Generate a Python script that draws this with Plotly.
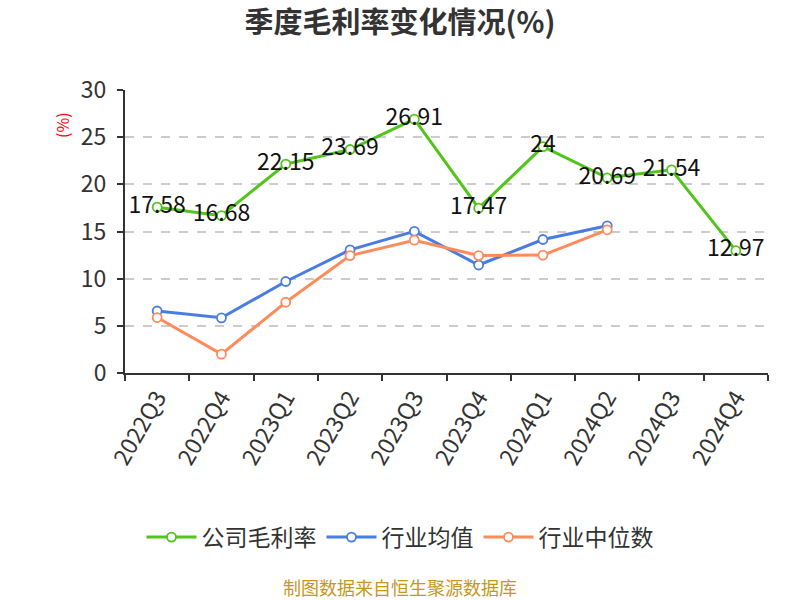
import plotly.graph_objects as go

categories = ["2022Q3", "2022Q4", "2023Q1", "2023Q2", "2023Q3", "2023Q4", "2024Q1", "2024Q2", "2024Q3", "2024Q4"]
company = [17.58, 16.68, 22.15, 23.69, 26.91, 17.47, 24, 20.69, 21.54, 12.97]
industry_avg = [6.57, 5.85, 9.7, 13.05, 15.02, 11.45, 14.15, 15.6]
industry_median = [5.88, 2.0, 7.5, 12.45, 14.08, 12.45, 12.5, 15.18]

FONT = "Noto Sans CJK SC, Noto Sans, sans-serif"
GREEN = "#52c41a"
BLUE = "#4a7de2"
ORANGE = "#ff8a5b"

fig = go.Figure()

def add(name, ys, color, labels=False):
    fig.add_trace(go.Scatter(
        x=categories[:len(ys)], y=ys, name=name,
        mode="lines+markers+text" if labels else "lines+markers",
        line=dict(color=color, width=3),
        marker=dict(symbol="circle", size=9, color="white", line=dict(color=color, width=1.8)),
        text=[f"{v:g}" for v in ys] if labels else None,
        textposition="middle center",
        textfont=dict(size=23, color="#111", family=FONT),
        cliponaxis=False,
    ))

add("公司毛利率", company, GREEN, labels=True)
add("行业均值", industry_avg, BLUE)
add("行业中位数", industry_median, ORANGE)

CX = (400 - 125) / 643

fig.update_layout(
    width=800, height=600,
    margin=dict(l=125, r=32, t=90, b=227),
    paper_bgcolor="white", plot_bgcolor="white",
    font=dict(family=FONT, color="#333"),
    title=dict(text="<b>季度毛利率变化情况(%)</b>", x=0.5, xanchor="center", y=0.962, yanchor="middle",
               font=dict(size=29, color="#333", family=FONT)),
    showlegend=True,
    legend=dict(orientation="h", x=CX, xanchor="center", y=-0.58, yanchor="middle",
                font=dict(size=23, color="#333", family=FONT), itemwidth=50, traceorder="normal"),
    annotations=[
        dict(text="(%)", x=(62 - 125) / 643, y=(373 - 125) / 283, xref="paper", yref="paper",
             showarrow=False, xanchor="center", yanchor="middle",
             textangle=-90, font=dict(size=16, color="red", family=FONT)),
        dict(text="制图数据来自恒生聚源数据库", x=CX, y=-0.755, xref="paper", yref="paper",
             showarrow=False, font=dict(size=18, color="#c8961e", family=FONT), yanchor="middle"),
    ],
)

fig.update_xaxes(
    type="category", range=[-0.5, 9.5], tickson="boundaries",
    showline=True, linecolor="#333", linewidth=2,
    ticks="outside", ticklen=6, tickcolor="#333", tickwidth=2,
    tickangle=-60, tickfont=dict(size=23, color="#333", family=FONT),
    showgrid=False,
)
fig.update_yaxes(
    range=[0, 30], dtick=5,
    showline=True, linecolor="#333", linewidth=2,
    ticks="outside", ticklen=6, tickcolor="#333", tickwidth=2,
    ticklabelstandoff=6,
    tickfont=dict(size=23, color="#333", family=FONT),
    showgrid=True, gridcolor="#cccccc", griddash="dash", gridwidth=1.5,
    zeroline=False,
)

fig.write_html("out.html")
